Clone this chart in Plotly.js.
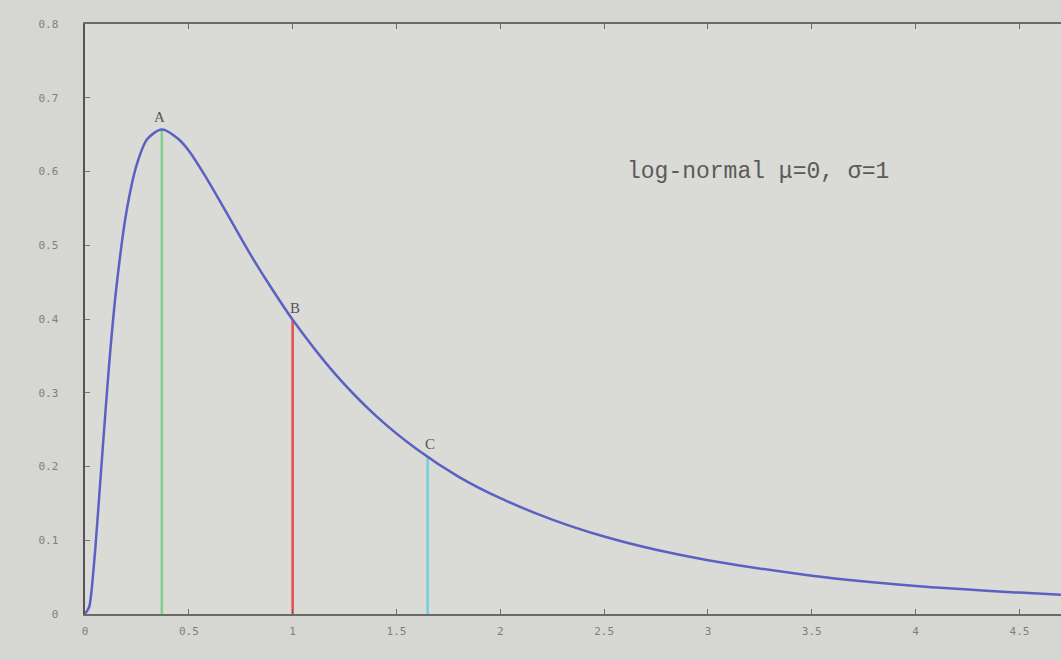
<!DOCTYPE html>
<html>
<head>
<meta charset="utf-8">
<script src="https://cdn.plot.ly/plotly-3.0.1.min.js"></script>
<style>html,body{margin:0;padding:0;background:#d6d6d3;}#chart{width:1061px;height:660px;}</style>
</head>
<body>
<div id="chart"></div>
<script>
// Curve points (log-normal density, mu=0, sigma=1)
const curveX = [0, 0.02, 0.03, 0.05, 0.07, 0.1, 0.12, 0.15, 0.2, 0.25, 0.3, 0.37, 0.45, 0.5, 0.6, 0.7, 0.8, 0.9, 1.0, 1.2, 1.4, 1.6, 1.8, 2.0, 2.25, 2.5, 2.75, 3.0, 3.5, 4.0, 4.5, 4.7];
const curveY = [0, 0.0095, 0.028, 0.09, 0.166, 0.28, 0.351, 0.44, 0.546, 0.61, 0.644, 0.657, 0.644, 0.628, 0.584, 0.535, 0.486, 0.441, 0.399, 0.327, 0.269, 0.223, 0.186, 0.157, 0.128, 0.105, 0.087, 0.073, 0.052, 0.038, 0.029, 0.026];

// Marked points: A (mode), B (median), C (mean)
const markLabels = ["A", "B", "C"];
const markX = [0.37, 1.0, 1.65];
const markY = [0.657, 0.399, 0.214];
const markColors = ["#7ccf8c", "#e0504f", "#74d0d2"];

const xTicks = [0, 0.5, 1, 1.5, 2, 2.5, 3, 3.5, 4, 4.5];
const xTickText = ["0", "0.5", "1", "1.5", "2", "2.5", "3", "3.5", "4", "4.5"];
const yTicks = [0, 0.1, 0.2, 0.3, 0.4, 0.5, 0.6, 0.7, 0.8];
const yTickText = ["0", "0.1", "0.2", "0.3", "0.4", "0.5", "0.6", "0.7", "0.8"];

const titleText = "log-normal \u03bc=0, \u03c3=1";

const traces = [];
markX.forEach((x, i) => {
  traces.push({
    x: [x, x], y: [0, markY[i]], mode: "lines", type: "scatter",
    line: {color: markColors[i], width: 2.5}, hoverinfo: "skip", showlegend: false
  });
});
traces.push({
  x: curveX, y: curveY, mode: "lines", type: "scatter",
  line: {color: "#5b60c2", width: 2.5, shape: "spline", smoothing: 0.8},
  showlegend: false
});

const annotations = markLabels.map((t, i) => ({
  x: markX[i], y: markY[i], text: t, showarrow: false,
  yanchor: "bottom", xanchor: "center", yshift: 2, xshift: (i === 0 ? -2 : 2),
  font: {family: "Liberation Serif, serif", size: 15, color: "#555"}
}));
annotations.push({
  x: 3.24, y: 0.6, text: titleText, showarrow: false,
  xanchor: "center", yanchor: "middle",
  font: {family: "Liberation Mono, monospace", size: 23, color: "#5a5a5a"}
});

const tickFont = {family: "DejaVu Sans Mono, monospace", size: 11, color: "#808080"};

const layout = {
  width: 1061, height: 660,
  paper_bgcolor: "#d6d6d3",
  plot_bgcolor: "#dadad7",
  margin: {l: 85, r: 0, t: 24, b: 46},
  showlegend: false,
  xaxis: {
    range: [0, 4.7], tickvals: xTicks, ticktext: xTickText,
    showgrid: false, zeroline: false,
    showline: true, linecolor: "#6a6a6a", linewidth: 2, mirror: "ticks",
    ticks: "inside", ticklen: 5, tickcolor: "#6a6a6a",
    tickfont: tickFont, ticklabelstandoff: 6
  },
  yaxis: {
    range: [0, 0.8], tickvals: yTicks, ticktext: yTickText,
    showgrid: false, zeroline: false,
    showline: true, linecolor: "#555", linewidth: 2.5,
    ticks: "inside", ticklen: 5, tickcolor: "#777",
    tickfont: tickFont, ticklabelstandoff: 22
  },
  annotations: annotations
};

Plotly.newPlot("chart", traces, layout, {displayModeBar: false, staticPlot: true});
</script>
</body>
</html>
